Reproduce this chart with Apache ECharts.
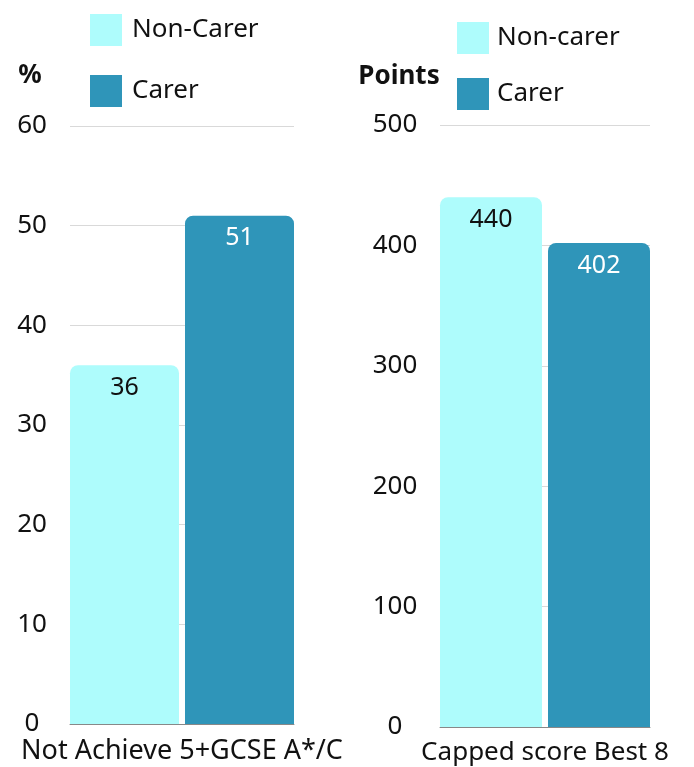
<!DOCTYPE html>
<html><head><meta charset="utf-8">
<script src="https://cdn.jsdelivr.net/npm/echarts@6/dist/echarts.min.js"></script>
<style>html,body{margin:0;padding:0;background:#fff}#c{width:694px;height:767px}</style>
</head><body><div id="c"></div>
<script>
const leftCategories = ['Not Achieve 5+GCSE A*/C'];
const leftNonCarer = [36];
const leftCarer = [51];
const leftTicks = [0, 10, 20, 30, 40, 50, 60];
const rightCategories = ['Capped score Best 8'];
const rightNonCarer = [440];
const rightCarer = [402];
const rightTicks = [0, 100, 200, 300, 400, 500];

const LIGHT = '#aefcfc', DARK = '#2f95b9';
const FONT = 'Noto Sans';
const chart = echarts.init(document.getElementById('c'));
function lbl(color) {
  return {show: true, position: 'insideTop', distance: 10, color: color, fontSize: 25, fontFamily: FONT};
}
chart.setOption({
  animation: false,
  textStyle: {fontFamily: FONT},
  legend: [
    {left: 90, top: 14, padding: 0, orient: 'vertical', itemWidth: 32, itemHeight: 32, itemGap: 29,
     icon: 'rect', data: ['Non-Carer', 'Carer'], textStyle: {fontSize: 26, color: '#111', fontFamily: FONT, padding: [0, 0, 0, 5]}},
    {left: 457, top: 22, padding: 0, orient: 'vertical', itemWidth: 32, itemHeight: 32, itemGap: 24,
     icon: 'rect', data: ['Non-carer', 'Carer '], textStyle: {fontSize: 26, color: '#111', fontFamily: FONT, padding: [0, 0, 0, 3]}}
  ],
  grid: [
    {left: 70, right: 400, top: 126, bottom: 43},
    {left: 440, right: 44, top: 125, bottom: 40}
  ],
  xAxis: [
    {type: 'category', gridIndex: 0, data: leftCategories, axisTick: {show: false},
     axisLine: {lineStyle: {color: '#888'}},
     axisLabel: {fontSize: 27, color: '#111', margin: 14, interval: 0, fontFamily: FONT}},
    {type: 'category', gridIndex: 1, data: rightCategories, axisTick: {show: false},
     axisLine: {lineStyle: {color: '#888'}},
     axisLabel: {fontSize: 26, color: '#111', margin: 13, interval: 0, fontFamily: FONT}}
  ],
  yAxis: [
    {type: 'value', gridIndex: 0, min: leftTicks[0], max: leftTicks[leftTicks.length - 1], interval: 10,
     name: '%', nameLocation: 'end', nameGap: 37,
     nameTextStyle: {fontSize: 26, fontWeight: 'bold', color: '#111', align: 'center', padding: [0, 0, 0, -80]},
     axisLabel: {fontSize: 26, color: '#111', align: 'center', margin: 38, fontFamily: FONT},
     splitLine: {lineStyle: {color: '#d9d9d9'}}},
    {type: 'value', gridIndex: 1, min: rightTicks[0], max: rightTicks[rightTicks.length - 1], interval: 100,
     name: 'Points', nameLocation: 'end', nameGap: 35,
     nameTextStyle: {fontSize: 26, fontWeight: 'bold', color: '#111', align: 'center', padding: [0, 0, 0, -82]},
     axisLabel: {fontSize: 26, color: '#111', align: 'center', margin: 45, fontFamily: FONT},
     splitLine: {lineStyle: {color: '#d9d9d9'}}}
  ],
  series: [
    {name: 'Non-Carer', type: 'bar', xAxisIndex: 0, yAxisIndex: 0, data: leftNonCarer, barWidth: 109, barGap: '5.5%',
     itemStyle: {color: LIGHT, borderRadius: [8, 8, 0, 0]}, label: lbl('#111')},
    {name: 'Carer', type: 'bar', xAxisIndex: 0, yAxisIndex: 0, data: leftCarer, barWidth: 109, barGap: '5.5%',
     itemStyle: {color: DARK, borderRadius: [8, 8, 0, 0]}, label: lbl('#fff')},
    {name: 'Non-carer', type: 'bar', xAxisIndex: 1, yAxisIndex: 1, data: rightNonCarer, barWidth: 102, barGap: '5.9%',
     itemStyle: {color: LIGHT, borderRadius: [8, 8, 0, 0]}, label: lbl('#111')},
    {name: 'Carer ', type: 'bar', xAxisIndex: 1, yAxisIndex: 1, data: rightCarer, barWidth: 102, barGap: '5.9%',
     itemStyle: {color: DARK, borderRadius: [8, 8, 0, 0]}, label: lbl('#fff')}
  ]
});
</script></body></html>
